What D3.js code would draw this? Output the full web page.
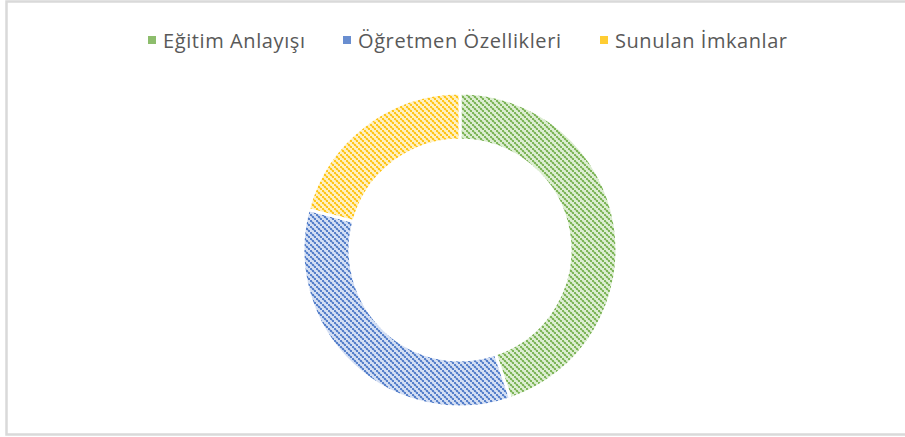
<!DOCTYPE html>
<html lang="tr">
<head>
<meta charset="UTF-8" />
<title>Donut</title>
<style>
  body { margin: 0; background: #fff; }
  svg { display: block; }
  .legend text { font-family: "Open Sans", "Noto Sans", sans-serif; font-size: 20px; fill: #595959; }
</style>
</head>
<body>
<div id="chart"></div>
<script src="https://d3js.org/d3.v7.min.js"></script>
<script>
  // data
  const categories = ['Eğitim Anlayışı', 'Öğretmen Özellikleri', 'Sunulan İmkanlar']
  const values = [43, 33, 20]
  const colors = ['#70AD47', '#4472C4', '#FFC000']
  const lightColors = ['#dcedd1', '#d3def3', '#fff0c2']

  const width = 905
  const height = 437
  const cx = 460, cy = 250
  const outerR = 157, innerR = 110

  const svg = d3.select('#chart').append('svg')
    .attr('width', width)
    .attr('height', height)

  // frame
  svg.append('rect')
    .attr('x', 6.5).attr('y', 1.5)
    .attr('width', 905).attr('height', 433)
    .attr('fill', '#fff')
    .attr('stroke', '#d9d9d9')
    .attr('stroke-width', 2.5)

  // dotted diagonal patterns
  const defs = svg.append('defs')
  colors.forEach((c, i) => {
    const p = defs.append('pattern')
      .attr('id', 'pat' + i)
      .attr('patternUnits', 'userSpaceOnUse')
      .attr('width', 6).attr('height', 6)
    p.append('rect').attr('width', 6).attr('height', 6).attr('fill', lightColors[i])
    // dotted line running top-left to bottom-right
    for (let k = 0; k < 6; k += 2) {
      p.append('rect')
        .attr('x', k + 1).attr('y', k + 1)
        .attr('width', 2).attr('height', 2)
        .attr('fill', c)
        .attr('opacity', 0.35)
      p.append('rect')
        .attr('x', k).attr('y', k)
        .attr('width', 2).attr('height', 2)
        .attr('fill', c)
        .attr('opacity', 0.85)
    }
  })

  const pie = d3.pie().sort(null).value(d => d)
  const arc = d3.arc().innerRadius(innerR).outerRadius(outerR)

  svg.append('g')
    .attr('transform', `translate(${cx},${cy})`)
    .selectAll('path')
    .data(pie(values))
    .join('path')
    .attr('d', arc)
    .attr('fill', (d, i) => `url(#pat${i})`)
    .attr('stroke', '#fff')
    .attr('stroke-width', 3)

  // legend
  const legendX = [148, 343, 600]
  const legendW = [142, 203, 172]
  const legend = svg.append('g').attr('class', 'legend')
  const items = legend.selectAll('g')
    .data(categories)
    .join('g')
    .attr('transform', (d, i) => `translate(${legendX[i]},0)`)
  items.append('rect')
    .attr('x', 0).attr('y', 36)
    .attr('width', 8).attr('height', 8)
    .attr('fill', (d, i) => colors[i])
    .attr('opacity', 0.8)
  items.append('text')
    .attr('x', 15).attr('y', 48)
    .attr('textLength', (d, i) => legendW[i])
    .attr('lengthAdjust', 'spacing')
    .text(d => d)
</script>
</body>
</html>
